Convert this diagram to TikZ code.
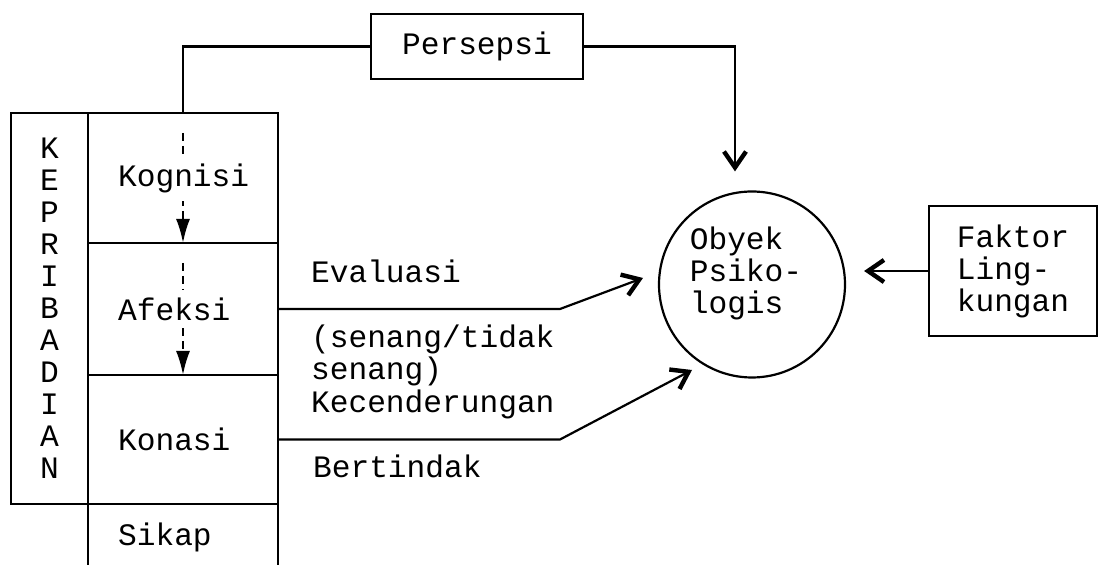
\documentclass[tikz,border=0pt]{standalone}
\usepackage{fontspec}
\setmainfont{Liberation Mono}
\usetikzlibrary{arrows.meta,positioning}

\tikzset{
  txt/.style={font=\fontsize{15.6}{16}\selectfont},
  cell/.style={draw, rectangle, minimum width=95pt, outer sep=0pt, inner sep=0pt},
  box/.style={draw, rectangle, txt, align=center},
  celltxt/.style={txt, anchor=west, fill=white, inner xsep=1pt, inner ysep=4pt},
  lbl/.style={txt, anchor=base west, inner sep=0pt, align=left},
  barb/.style={-{Straight Barb[length=8pt,width=11pt,line width=2.2pt]}},
  dasharrow/.style={dash pattern=on 4pt off 2.5pt,
    -{Latex[length=12pt,width=7pt]}, shorten <=10pt},
}

\begin{document}
\begin{tikzpicture}[x=0.5pt, y=-0.5pt, line width=1.1pt]
\useasboundingbox (0,0) rectangle (1099,565);
\clip (0,0) rectangle (1099,565);

% column of the attitude components
\node[cell, minimum height=65pt] (kog) at (183,178) {};
\node[cell, minimum height=66pt, below=0pt of kog] (afe) {};
\node[cell, minimum height=64.5pt, below=0pt of afe] (kon) {};
\node[cell, minimum height=33pt, below=0pt of kon] (sik) {};
\node[box, minimum width=38.5pt, minimum height=195.5pt, outer sep=0pt]
  (kep) at (49.5,308.5) {K\\E\\P\\R\\I\\B\\A\\D\\I\\A\\N};

% dashed flow downwards, text goes on top
\draw[dasharrow] (kog.north) -- (kog.south);
\draw[dasharrow] (afe.north) -- (afe.south);
\node[celltxt] (kogtxt) at ([xshift=13.5pt]kog.west) {Kognisi};
\node[celltxt] (afetxt) at ([xshift=13.5pt]afe.west) {Afeksi};
\node[celltxt] (kontxt) at ([xshift=13.5pt]kon.west) {Konasi};
\node[celltxt] (siktxt) at ([xshift=13.5pt]sik.west) {Sikap};

% object and outside factors
\node[circle, draw, minimum size=93pt] (obj) at (752,284.5) {};
\node[txt, align=left] (objtxt) at (746,273) {Obyek\\Psiko-\\logis};
\node[box, minimum width=84pt, minimum height=65pt, align=left]
  (fak) at (1013,271) {Faktor\\Ling-\\kungan};
\draw[barb, shorten >=9pt] (fak.west) -- (fak.west -| obj.east);

% perception loop over the top
\node[box, minimum width=106pt, minimum height=32.5pt] (pers) at (477,46.5) {Persepsi};
\draw (kog.north) |- (pers.west);
\draw[barb, shorten >=9.5pt] (pers.east) -| ([xshift=-8.5pt]obj.north);

% evaluation and tendency to act
\coordinate (evtip) at (643,278);
\coordinate (kectip) at (692,370);
\draw[barb] (afe.east) -- ++(282,0) -- (evtip);
\draw[barb] (kon.east) -- ++(282,0) -- (kectip);
\node[lbl] (evl) at (310,283) {Evaluasi};
\node[lbl] (sen) at (310,380) {(senang/tidak\\senang)};
\node[lbl] (kec) at (310,413) {Kecenderungan};
\node[lbl] (ber) at (312,478) {Bertindak};
\end{tikzpicture}
\end{document}
